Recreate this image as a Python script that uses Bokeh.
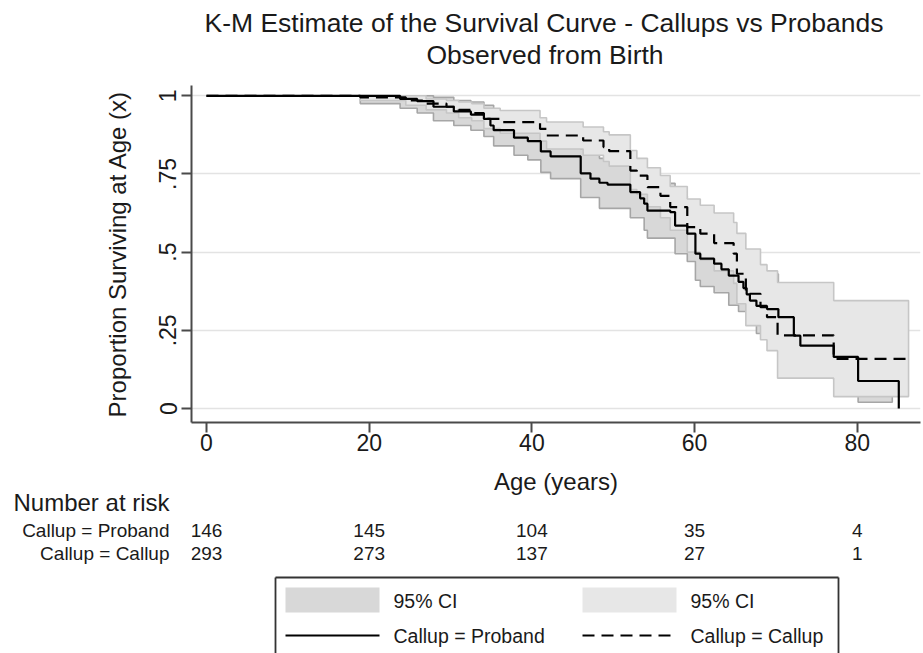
from bokeh.plotting import figure
from bokeh.models import Range1d, Title, FixedTicker
from bokeh.layouts import column
from bokeh.embed import file_html
from bokeh.resources import INLINE
from bokeh.core.properties import value

FONT = "Liberation Sans"

# ---------------- data ----------------
# Kaplan-Meier survival, Callup = Proband (value holds from t onward)
proband_t = [0, 23.8, 25.9, 27.9, 30.4, 32.5, 34.1, 34.9, 35.3, 37.8, 39.5, 41.1, 42.3,
             46.0, 47.2, 48.3, 49.3, 52.1, 53.3, 53.8, 54.2, 57.0, 57.6, 59.1, 60.1,
             60.7, 62.4, 63.3, 64.2, 65.4, 66.0, 66.4, 66.8, 67.6, 68.9, 70.3, 72.2,
             73.0, 77.1, 80.1, 85.1]
proband_s = [1.0, 0.99, 0.983, 0.965, 0.95, 0.94, 0.926, 0.905, 0.89, 0.866, 0.855, 0.822, 0.806,
             0.752, 0.735, 0.722, 0.716, 0.692, 0.672, 0.655, 0.633, 0.628, 0.585, 0.559, 0.495,
             0.479, 0.463, 0.445, 0.425, 0.405, 0.385, 0.365, 0.345, 0.328, 0.318, 0.292, 0.233,
             0.201, 0.165, 0.088, 0.0]

# Kaplan-Meier survival, Callup = Callup
callup_t = [0, 18.9, 24.5, 27.0, 29.5, 31.0, 32.6, 34.1, 36.1, 41.0, 41.8, 46.3, 48.8, 49.5,
            52.1, 52.9, 54.2, 55.8, 57.0, 59.1, 60.7, 62.4, 64.8, 65.2, 66.3, 68.1, 68.9,
            70.2, 77.1, 86.3]
callup_s = [1.0, 0.995, 0.985, 0.975, 0.965, 0.955, 0.945, 0.926, 0.916, 0.894, 0.873, 0.857,
            0.836, 0.823, 0.761, 0.745, 0.708, 0.68, 0.644, 0.58, 0.559, 0.529, 0.495, 0.431,
            0.367, 0.324, 0.292, 0.234, 0.159, 0.159]

# 95% confidence bands
proband_ci_t = [18.9, 23.8, 25.9, 27.9, 30.4, 32.5, 34.1, 35.3, 37.8, 39.5, 41.1, 42.3, 46.0,
                48.3, 52.1, 53.8, 54.2, 57.6, 59.1, 60.1, 60.7, 62.4, 64.2, 65.4, 66.4, 67.6,
                70.3, 72.2, 73.0, 77.1, 80.1]
proband_ci_lo = [0.975, 0.96, 0.945, 0.92, 0.905, 0.89, 0.87, 0.84, 0.81, 0.795, 0.755, 0.735,
                 0.675, 0.64, 0.61, 0.57, 0.545, 0.495, 0.47, 0.41, 0.39, 0.37, 0.33, 0.31, 0.27,
                 0.24, 0.20, 0.15, 0.12, 0.09, 0.02]
proband_ci_hi = [1.0, 1.0, 1.0, 0.995, 0.985, 0.98, 0.97, 0.95, 0.93, 0.92, 0.89, 0.875, 0.83,
                 0.80, 0.775, 0.735, 0.72, 0.68, 0.655, 0.59, 0.575, 0.555, 0.52, 0.50, 0.46,
                 0.43, 0.40, 0.34, 0.31, 0.28, 0.30]
proband_ci_end = 84.3

callup_ci_t = [18.9, 24.5, 27.0, 29.5, 31.0, 32.6, 34.1, 36.1, 41.0, 41.8, 46.3, 48.8, 49.5,
               52.1, 52.9, 54.2, 55.8, 57.0, 59.1, 60.7, 62.4, 64.8, 65.2, 66.3, 68.1, 68.9,
               70.2, 77.1]
callup_ci_lo = [0.985, 0.97, 0.955, 0.945, 0.93, 0.92, 0.895, 0.88, 0.855, 0.83, 0.81, 0.79,
                0.775, 0.70, 0.685, 0.645, 0.61, 0.57, 0.50, 0.475, 0.44, 0.40, 0.335, 0.265,
                0.22, 0.185, 0.097, 0.038]
callup_ci_hi = [1.0, 1.0, 0.99, 0.985, 0.98, 0.975, 0.96, 0.953, 0.93, 0.916, 0.90, 0.885,
                0.875, 0.825, 0.80, 0.77, 0.745, 0.71, 0.67, 0.65, 0.625, 0.595, 0.56, 0.51,
                0.46, 0.44, 0.403, 0.345]
callup_ci_end = 86.3

# number at risk table
risk_times = [0, 20, 40, 60, 80]
risk_proband = [146, 145, 104, 35, 4]
risk_callup = [293, 273, 137, 27, 1]
risk_groups = ["Callup = Proband", "Callup = Callup"]
risk_title = "Number at risk"

x_ticks = [0, 20, 40, 60, 80]
y_ticks = [0, 0.25, 0.5, 0.75, 1]
y_tick_labels = ["0", ".25", ".5", ".75", "1"]

title_1 = "K-M Estimate of the Survival Curve - Callups vs Probands"
title_2 = "Observed from Birth"
x_title = "Age (years)"
y_title = "Proportion Surviving at Age (x)"
legend_labels = ["95% CI", "95% CI", "Callup = Proband", "Callup = Callup"]

# ---------------- styles / layout ----------------
TXT = "#1a1a1a"
AXIS = "#4a4a4a"
GRID = "#e3e3e3"
P_FILL, P_EDGE = "#d8d8d8", "#a6a6a6"
C_FILL, C_EDGE = "#e7e7e7", "#c6c6c6"
DASH = "12 7"

W = 923
FRAME_L, FRAME_R, FRAME_T, FRAME_B = 191, 920, 85, 422
H1 = 518
PXX = 8.135          # pixels per year
PXY = 312.7          # pixels per unit of survival
X0 = -(206 - FRAME_L) / PXX
X1 = X0 + (FRAME_R - FRAME_L) / PXX
Y0 = -(FRAME_B - 408) / PXY
Y1 = Y0 + (FRAME_B - FRAME_T) / PXY


def band_polygon(t, lo, hi, t_end):
    ends = list(t[1:]) + [t_end]
    xs_hi, ys_hi, xs_lo, ys_lo = [], [], [], []
    for a, b, l, h in zip(t, ends, lo, hi):
        xs_hi += [a, b]
        ys_hi += [h, h]
        xs_lo += [a, b]
        ys_lo += [l, l]
    return xs_hi + xs_lo[::-1], ys_hi + ys_lo[::-1]


p = figure(width=W, height=H1, output_backend="svg", toolbar_location=None,
           x_range=Range1d(X0, X1), y_range=Range1d(Y0, Y1),
           min_border_left=FRAME_L, min_border_right=W - FRAME_R, min_border_top=FRAME_T,
           min_border_bottom=H1 - FRAME_B)
p.outline_line_color = None
p.background_fill_color = "white"

# title: outer line (default title), inner line, and a thin spacer next to the frame
p.title.text = title_1
p.title.align = "left"
p.title.offset = 13
p.title.text_font = FONT
p.title.text_font_size = "26.5px"
p.title.text_font_style = "normal"
p.title.text_color = TXT
p.title.standoff = 0
p.add_layout(Title(text=" ", text_font_size="2px", standoff=12), "above")
p.add_layout(Title(text=title_2, align="left", offset=235, text_font=FONT,
                   text_font_size="26.5px", text_font_style="normal", text_color=TXT,
                   standoff=0), "above")

# confidence bands (Proband first, Callup drawn over it)
pxs, pys = band_polygon(proband_ci_t, proband_ci_lo, proband_ci_hi, proband_ci_end)
cxs, cys = band_polygon(callup_ci_t, callup_ci_lo, callup_ci_hi, callup_ci_end)
p.patch(pxs, pys, fill_color=P_FILL, line_color=P_EDGE, line_width=1.6)
p.patch(cxs, cys, fill_color=C_FILL, line_color=C_EDGE, line_width=1.6)

# survival curves
p.step(proband_t, proband_s, mode="after", line_color="black", line_width=2.2)
p.step(callup_t, callup_s, mode="after", line_color="black", line_width=2.2, line_dash=DASH)

# axes
p.xaxis.ticker = FixedTicker(ticks=x_ticks)
p.yaxis.ticker = FixedTicker(ticks=y_ticks)
p.yaxis.major_label_overrides = {t: s for t, s in zip(y_ticks, y_tick_labels)}
p.yaxis.major_label_orientation = "vertical"
p.xaxis.axis_label = x_title
p.yaxis.axis_label = y_title
for ax in (p.xaxis, p.yaxis):
    ax.axis_line_color = AXIS
    ax.axis_line_width = 2
    ax.major_tick_line_color = AXIS
    ax.major_tick_line_width = 2
    ax.major_tick_out = 10
    ax.major_tick_in = 0
    ax.minor_tick_line_color = None
    ax.major_label_text_font = FONT
    ax.major_label_text_font_size = "23px"
    ax.major_label_text_color = TXT
    ax.axis_label_text_font = FONT
    ax.axis_label_text_font_size = "24px"
    ax.axis_label_text_font_style = "normal"
    ax.axis_label_text_color = TXT
p.xaxis.major_label_standoff = 1
p.xaxis.axis_label_standoff = 14
p.yaxis.major_label_standoff = 5
p.yaxis.axis_label_standoff = 26
p.xgrid.grid_line_color = None
p.ygrid.grid_line_color = GRID
p.ygrid.grid_line_width = 1.6

# "Number at risk" heading below the x axis
p.add_layout(Title(text=risk_title, align="left", offset=13 - FRAME_L, text_font=FONT,
                   text_font_size="24px", text_font_style="normal", text_color=TXT,
                   standoff=-22), "below")

# ---------------- lower panel: at-risk rows and legend ----------------
H2 = 653 - H1
q = figure(width=W, height=H2, output_backend="svg", toolbar_location=None,
           x_range=Range1d(X0, X1), y_range=Range1d(653, H1),
           x_axis_location=None, y_axis_location="left",
           min_border_left=FRAME_L, min_border_right=W - FRAME_R,
           min_border_top=0, min_border_bottom=0)
q.extra_x_ranges = {"px": Range1d(FRAME_L, FRAME_R)}
q.grid.visible = False
q.outline_line_color = None

row_y = [530, 553]
q.yaxis.ticker = FixedTicker(ticks=row_y)
q.yaxis.major_label_overrides = {y: g for y, g in zip(row_y, risk_groups)}
q.yaxis.axis_line_color = None
q.yaxis.major_tick_line_color = None
q.yaxis.minor_tick_line_color = None
q.yaxis.major_label_standoff = 16
q.yaxis.major_label_text_font = FONT
q.yaxis.major_label_text_font_size = "19px"
q.yaxis.major_label_text_color = TXT

for counts, ry in zip([risk_proband, risk_callup], row_y):
    q.text(x=risk_times, y=[ry] * len(risk_times), text=[str(c) for c in counts],
           text_font=value(FONT), text_font_size="19px", text_color=TXT,
           text_baseline="middle", text_align="center")

BOX_L, BOX_R, BOX_T = 275, 838, 577
q.segment(x0=[BOX_L, BOX_R, BOX_L], y0=[BOX_T, BOX_T, BOX_T],
          x1=[BOX_L, BOX_R, BOX_R], y1=[660, 660, BOX_T],
          line_color="#333333", line_width=1.8, x_range_name="px")
SW = 94
cols = [285, 582]
rows = [600, 635]
q.quad(left=cols, right=[c + SW for c in cols], top=[587, 587], bottom=[612, 612],
       fill_color=[P_FILL, C_FILL], line_color=None, x_range_name="px")
q.line([cols[0], cols[0] + SW], [rows[1], rows[1]], line_color="black", line_width=2.2,
       x_range_name="px")
q.line([cols[1], cols[1] + SW], [rows[1], rows[1]], line_color="black", line_width=2.2,
       line_dash=DASH, x_range_name="px")
q.text(x=[cols[0] + SW + 14, cols[1] + SW + 14, cols[0] + SW + 14, cols[1] + SW + 14],
       y=[rows[0], rows[0], rows[1], rows[1]], text=legend_labels,
       text_font=value(FONT), text_font_size="19.5px", text_color=TXT,
       text_baseline="middle", text_align="left", x_range_name="px")

layout = column(p, q, spacing=0)
open("out.html", "w").write(file_html(layout, INLINE))
